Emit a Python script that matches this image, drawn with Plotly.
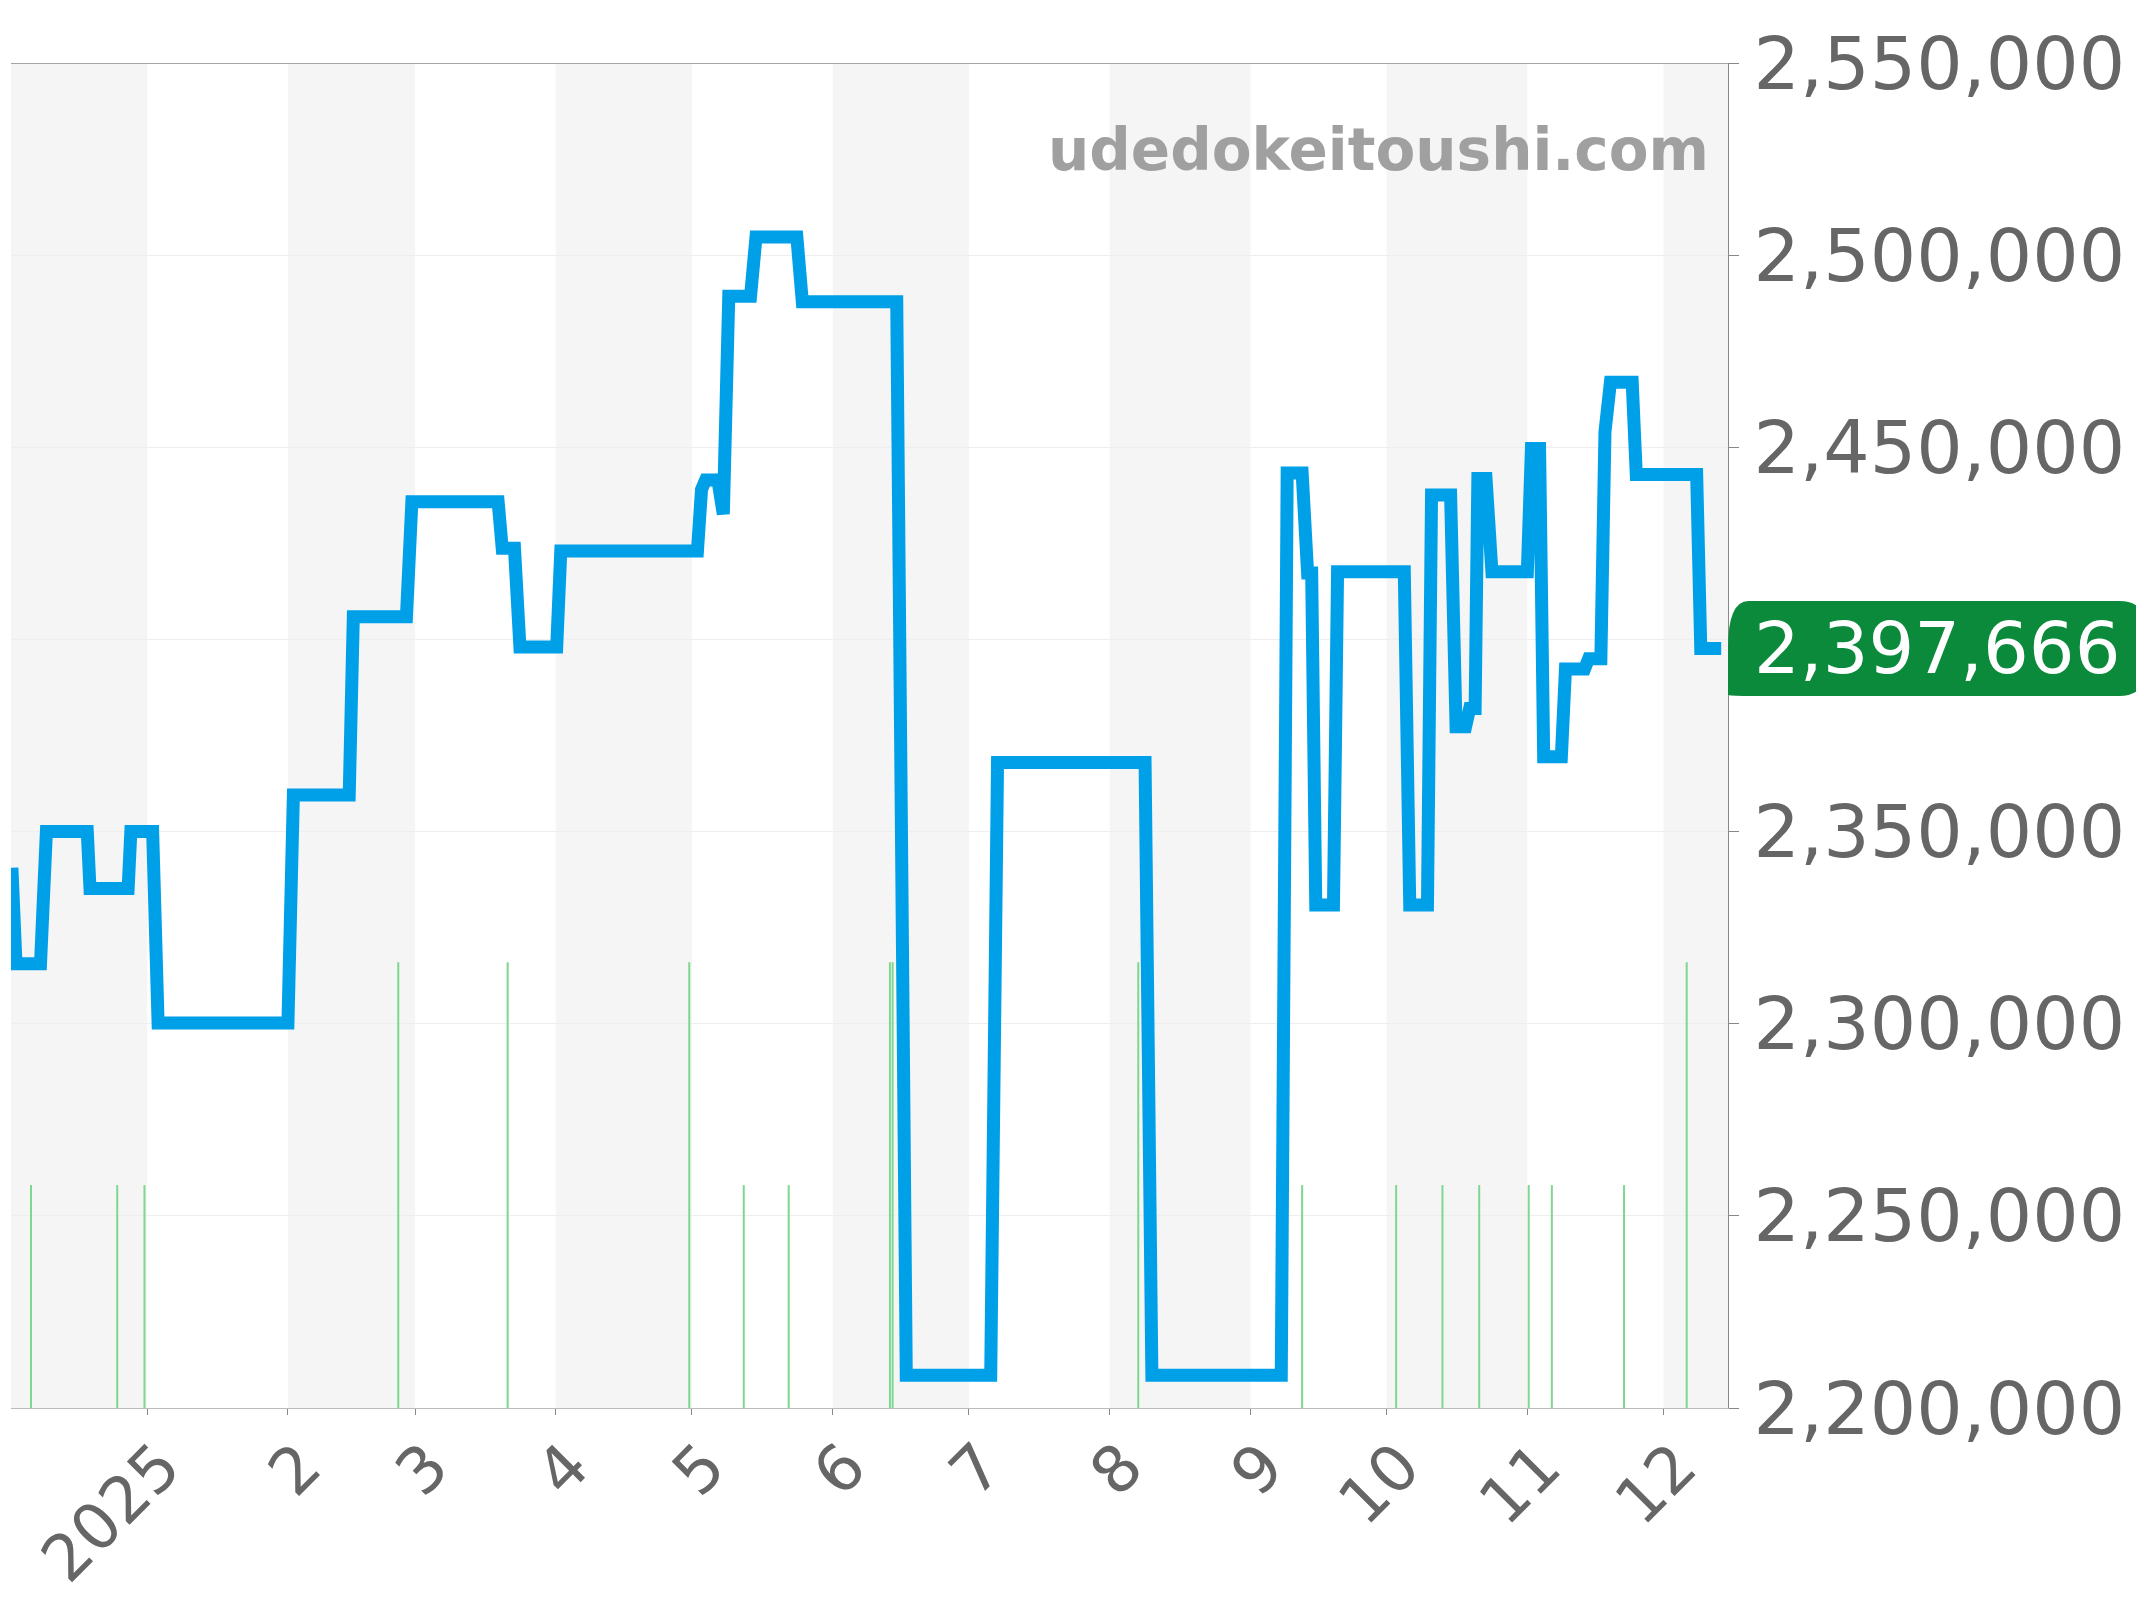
import pandas as pd
import plotly.graph_objects as go

base = pd.Timestamp("2025-01-01")

# price series: days from 2025-01-01, price (yen)
price_days = [-29.8, -28.9, -23.5, -22.2, -13.2, -12.6, -4.2, -3.6, 1.2, 2.4,
              31.0, 32.2, 44.5, 45.4, 57.1, 58.3, 77.3, 78.2, 80.9, 82.1,
              90.2, 91.1, 121.2, 122.1, 123.0, 125.7, 126.9, 128.1, 132.9, 134.1,
              143.1, 144.3, 165.1, 167.2, 185.8, 187.3, 219.8, 221.3, 249.8, 251.1,
              254.4, 255.6, 256.5, 257.4, 261.3, 262.2, 276.9, 278.1, 282.0, 282.9,
              287.1, 288.3, 290.4, 291.3, 292.5, 293.1, 294.9, 296.2, 304.0, 304.9,
              306.7, 307.6, 311.5, 312.4, 316.6, 317.5, 320.2, 321.1, 322.3, 327.1,
              328.0, 341.3, 342.2, 346.7]
price_vals = [2340600, 2315600, 2315600, 2350000, 2350000, 2335200, 2335200, 2350000, 2350000, 2300200,
              2300200, 2359500, 2359500, 2405900, 2405900, 2435800, 2435800, 2423700, 2423700, 2398000,
              2398000, 2423000, 2423000, 2439000, 2441500, 2441500, 2432600, 2489300, 2489300, 2504700,
              2504700, 2487900, 2487900, 2208500, 2208500, 2368000, 2368000, 2208500, 2208500, 2443300,
              2443300, 2417300, 2417300, 2330900, 2330900, 2417600, 2417600, 2330900, 2330900, 2437600,
              2437600, 2377300, 2377300, 2382000, 2382000, 2441900, 2441900, 2417600, 2417600, 2449700,
              2449700, 2369500, 2369500, 2392300, 2392300, 2395000, 2395000, 2454000, 2466900, 2466900,
              2442900, 2442900, 2397666, 2397666]

# green volume-like markers
event_days = [-25.6, -6.6, -0.6, 55.3, 79.4, 119.4, 131.4, 141.3, 163.6, 164.2,
              218.3, 254.4, 275.1, 285.3, 293.4, 304.3, 309.4, 325.3, 339.1]
event_tops = [2258000, 2258000, 2258000, 2316000, 2316000, 2316000, 2258000, 2258000, 2316000, 2316000,
              2316000, 2258000, 2258000, 2258000, 2258000, 2258000, 2258000, 2258000, 2316000]

month_ticks = ["2025-01-01", "2025-02-01", "2025-03-01", "2025-04-01", "2025-05-01", "2025-06-01",
               "2025-07-01", "2025-08-01", "2025-09-01", "2025-10-01", "2025-11-01", "2025-12-01"]
month_labels = ["2025", "2", "3", "4", "5", "6", "7", "8", "9", "10", "11", "12"]
shaded_months = [("2024-11-01", "2025-01-01"), ("2025-02-01", "2025-03-01"), ("2025-04-01", "2025-05-01"),
                 ("2025-06-01", "2025-07-01"), ("2025-08-01", "2025-09-01"), ("2025-10-01", "2025-11-01"),
                 ("2025-12-01", "2026-01-01")]
y_ticks = [2200000, 2250000, 2300000, 2350000, 2450000, 2500000, 2550000]
last_price = 2397666

x_start = base + pd.Timedelta(days=-30.0)
x_end = base + pd.Timedelta(days=348.2)
price_x = [base + pd.Timedelta(days=d) for d in price_days]

ex, ey = [], []
for d, t in zip(event_days, event_tops):
    dt = base + pd.Timedelta(days=d)
    ex += [dt, dt, None]
    ey += [2200000, t, None]

fig = go.Figure()
fig.add_trace(go.Scatter(x=ex, y=ey, mode="lines", line=dict(color="#7fd68f", width=2),
                         hoverinfo="skip", showlegend=False))
fig.add_trace(go.Scatter(x=price_x, y=price_vals, mode="lines",
                         line=dict(color="#00a0e9", width=13), showlegend=False))

for a, b in shaded_months:
    fig.add_vrect(x0=max(pd.Timestamp(a), x_start), x1=min(pd.Timestamp(b), x_end),
                  fillcolor="#f5f5f5", line_width=0, layer="below")
fig.add_hline(y=2400000, line_color="#eeeeee", line_width=1, layer="below")

fig.add_annotation(text="udedokeitoushi.com", xref="paper", yref="paper", x=0.99, y=0.935,
                   xanchor="right", yanchor="middle", showarrow=False,
                   font=dict(family="DejaVu Sans", size=58, color="#a0a0a0", weight="bold"))

# rounded green price badge
fig.add_shape(type="path", xref="paper", yref="y", layer="above",
              path="M 1.0,2410000 L 1.0,2385600 Q 1.0,2385300 1.012,2385300 L 1.228,2385300 "
                   "Q 1.247,2385300 1.247,2397666 Q 1.247,2410000 1.228,2410000 L 1.012,2410000 "
                   "Q 1.0,2410000 1.0,2397666 Z",
              fillcolor="#0a8a3a", line_width=0)
fig.add_annotation(text=f"{last_price:,}", xref="paper", yref="y", x=1.122, y=last_price,
                   xanchor="center", yanchor="middle", showarrow=False,
                   font=dict(family="DejaVu Sans", size=72, color="white"))

fig.update_layout(
    width=2144, height=1600, plot_bgcolor="white", paper_bgcolor="white",
    margin=dict(l=3, r=424, t=55, b=200),
    font=dict(family="DejaVu Sans", color="#666666"),
    xaxis=dict(range=[x_start, x_end], tickvals=month_ticks, ticktext=month_labels,
               tickangle=-45, tickfont=dict(size=64), ticks="outside", ticklen=6,
               tickcolor="#888", showgrid=False, showline=True, linecolor="#bbb", mirror=False,
               automargin=False, ticklabeloverflow="allow", ticklabelstandoff=-12,
               ticklabelshift=14),
    yaxis=dict(range=[2200000, 2550000], side="right", tickvals=y_ticks, tickformat=",",
               tickfont=dict(size=73), ticks="outside", ticklen=10, tickcolor="#888",
               showline=True, linecolor="#888", gridcolor="#eeeeee", zeroline=False,
               automargin=False),
)
fig.add_hline(y=2550000, line_color="#888", line_width=1.5)

fig.write_html("out.html")
